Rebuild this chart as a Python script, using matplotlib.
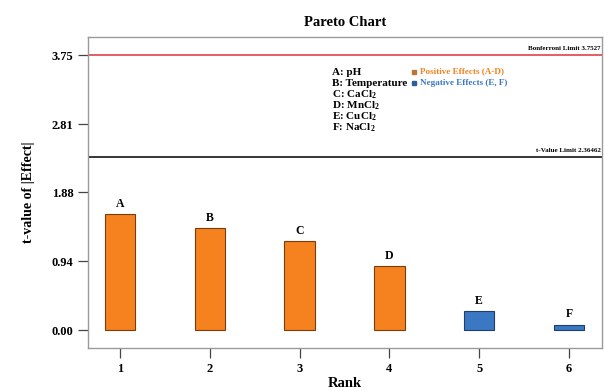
import matplotlib
matplotlib.use("Agg")
import matplotlib.pyplot as plt

# data
ranks = [1, 2, 3, 4, 5, 6]
effects = ["A", "B", "C", "D", "E", "F"]
t_values = [1.58, 1.39, 1.21, 0.87, 0.26, 0.07]
positive = [True, True, True, True, False, False]
bonferroni = 3.7527
t_limit = 2.36462
yticks = [0.00, 0.94, 1.88, 2.81, 3.75]
factor_names = ["A: pH", "B: Temperature", "C: CaCl$_2$", "D: MnCl$_2$",
                "E: CuCl$_2$", "F: NaCl$_2$"]

ORANGE = "#f5821f"
BLUE = "#3b78c4"

plt.rcParams["font.family"] = ["Liberation Serif", "DejaVu Serif"]
plt.rcParams["font.weight"] = "bold"
plt.rcParams["mathtext.fontset"] = "custom"
plt.rcParams["mathtext.rm"] = "Liberation Serif:bold"
plt.rcParams["mathtext.it"] = "Liberation Serif:bold"

fig = plt.figure(figsize=(6.04, 3.91), dpi=100)
ax = fig.add_axes([0.1457, 0.110, 0.851, 0.795])

colors = [ORANGE if p else BLUE for p in positive]
edges = ["#7a3c0c" if p else "#1e3f6e" for p in positive]
ax.bar(ranks, t_values, width=0.34, color=colors, edgecolor=edges, lw=0.8)
for r, v, lab in zip(ranks, t_values, effects):
    ax.text(r, v + 0.06, lab, ha="center", va="bottom", fontsize=8.5, fontweight="bold")

ax.axhline(bonferroni, color="#e0303a", lw=1.1)
ax.axhline(t_limit, color="black", lw=1.1)
ax.text(0.998, bonferroni + 0.05, f"Bonferroni Limit {bonferroni}", transform=ax.get_yaxis_transform(),
        ha="right", va="bottom", fontsize=5, fontweight="bold")
ax.text(0.998, t_limit + 0.05, f"t-Value Limit {t_limit}", transform=ax.get_yaxis_transform(),
        ha="right", va="bottom", fontsize=5, fontweight="bold")

# factor key
for i, name in enumerate(factor_names):
    ax.text(0.475, 0.887 - i * 0.036, name, transform=ax.transAxes,
            ha="left", va="center", fontsize=8, fontweight="bold")
ax.plot([0.634], [0.887], "s", ms=3, color="#b8753c", transform=ax.transAxes)
ax.plot([0.634], [0.852], "s", ms=3, color="#2d5f9a", transform=ax.transAxes)
ax.text(0.646, 0.889, "Positive Effects (A-D)", transform=ax.transAxes, ha="left", va="center",
        fontsize=6.6, fontweight="bold", color=ORANGE)
ax.text(0.646, 0.854, "Negative Effects (E, F)", transform=ax.transAxes, ha="left", va="center",
        fontsize=6.6, fontweight="bold", color=BLUE)

ax.set_xlim(0.644, 6.367)
ax.set_ylim(-0.245, 3.995)
ax.set_xticks(ranks)
ax.set_yticks(yticks)
ax.set_yticklabels([f"{t:.2f}" for t in yticks])
ax.tick_params(direction="out", length=7, width=0.9, color="#444444", labelsize=9)
for s in ax.spines.values():
    s.set_color("#9a9a9a")
    s.set_linewidth(1.0)

ax.set_title("Pareto Chart", fontsize=10.5, fontweight="bold", pad=8)
ax.set_ylabel("t-value of |Effect|", fontsize=10, fontweight="bold", labelpad=12)
ax.set_xlabel("Rank", fontsize=10.5, fontweight="bold", labelpad=2)

fig.savefig("out.png", dpi=100)
